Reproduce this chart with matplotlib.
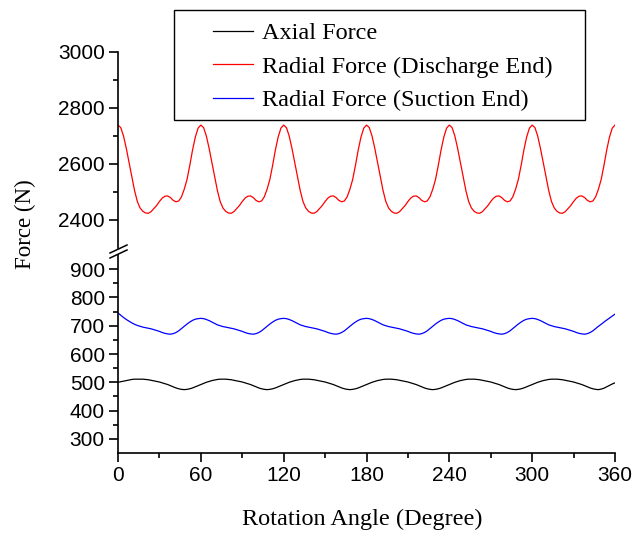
import matplotlib.pyplot as plt
import numpy as np
from matplotlib.lines import Line2D
from matplotlib.patches import Rectangle
from matplotlib.ticker import FixedLocator

# rotation angle, 2 degree steps
angle = np.arange(0, 361, 2)

# radial force at discharge end (N)
radial_discharge = [
    2739, 2730, 2700, 2656, 2605, 2552, 2505, 2466, 2443, 2431, 2425, 2424, 2430, 2441, 2452,
    2466, 2478, 2485, 2486, 2480, 2470, 2465, 2468, 2483, 2510, 2545, 2595, 2650, 2696, 2728,
    2739, 2730, 2700, 2656, 2605, 2552, 2505, 2466, 2443, 2431, 2425, 2424, 2430, 2441, 2452,
    2466, 2478, 2485, 2486, 2480, 2470, 2465, 2468, 2483, 2510, 2545, 2595, 2650, 2696, 2728,
    2739, 2730, 2700, 2656, 2605, 2552, 2505, 2466, 2443, 2431, 2425, 2424, 2430, 2441, 2452,
    2466, 2478, 2485, 2486, 2480, 2470, 2465, 2468, 2483, 2510, 2545, 2595, 2650, 2696, 2728,
    2739, 2730, 2700, 2656, 2605, 2552, 2505, 2466, 2443, 2431, 2425, 2424, 2430, 2441, 2452,
    2466, 2478, 2485, 2486, 2480, 2470, 2465, 2468, 2483, 2510, 2545, 2595, 2650, 2696, 2728,
    2739, 2730, 2700, 2656, 2605, 2552, 2505, 2466, 2443, 2431, 2425, 2424, 2430, 2441, 2452,
    2466, 2478, 2485, 2486, 2480, 2470, 2465, 2468, 2483, 2510, 2545, 2595, 2650, 2696, 2728,
    2739, 2730, 2700, 2656, 2605, 2552, 2505, 2466, 2443, 2431, 2425, 2424, 2430, 2441, 2452,
    2466, 2478, 2485, 2486, 2480, 2470, 2465, 2468, 2483, 2510, 2545, 2595, 2650, 2696, 2728,
    2739,
]

# radial force at suction end (N)
radial_suction = [
    745, 737, 729, 722, 716, 710, 705, 701, 698, 695, 693, 691, 689, 686, 683,
    680, 676, 673, 671, 670, 672, 676, 682, 690, 698, 706, 713, 719, 723, 725,
    726, 725, 722, 718, 713, 708, 703, 700, 697, 695, 693, 691, 689, 686, 683,
    680, 676, 673, 671, 670, 672, 676, 682, 690, 698, 706, 713, 719, 723, 725,
    726, 725, 722, 718, 713, 708, 703, 700, 697, 695, 693, 691, 689, 686, 683,
    680, 676, 673, 671, 670, 672, 676, 682, 690, 698, 706, 713, 719, 723, 725,
    726, 725, 722, 718, 713, 708, 703, 700, 697, 695, 693, 691, 689, 686, 683,
    680, 676, 673, 671, 670, 672, 676, 682, 690, 698, 706, 713, 719, 723, 725,
    726, 725, 722, 718, 713, 708, 703, 700, 697, 695, 693, 691, 689, 686, 683,
    680, 676, 673, 671, 670, 672, 676, 682, 690, 698, 706, 713, 719, 723, 725,
    726, 725, 722, 718, 713, 708, 703, 700, 697, 695, 693, 691, 689, 686, 683,
    680, 676, 673, 671, 670, 672, 676, 682, 690, 698, 705, 713, 720, 727, 734,
    741,
]

# axial force (N)
axial = [
    500, 502, 504, 506, 508, 510, 511, 511, 511, 511, 510, 509, 507, 505, 503,
    501, 498, 495, 492, 488, 484, 480, 477, 475, 474, 475, 477, 480, 484, 488,
    492, 496, 500, 503, 506, 508, 510, 511, 511, 511, 510, 509, 507, 505, 503,
    501, 498, 495, 492, 488, 484, 480, 477, 475, 474, 475, 477, 480, 484, 488,
    492, 496, 500, 503, 506, 508, 510, 511, 511, 511, 510, 509, 507, 505, 503,
    501, 498, 495, 492, 488, 484, 480, 477, 475, 474, 475, 477, 480, 484, 488,
    492, 496, 500, 503, 506, 508, 510, 511, 511, 511, 510, 509, 507, 505, 503,
    501, 498, 495, 492, 488, 484, 480, 477, 475, 474, 475, 477, 480, 484, 488,
    492, 496, 500, 503, 506, 508, 510, 511, 511, 511, 510, 509, 507, 505, 503,
    501, 498, 495, 492, 488, 484, 480, 477, 475, 474, 475, 477, 480, 484, 488,
    492, 496, 500, 503, 506, 508, 510, 511, 511, 511, 510, 509, 507, 505, 503,
    501, 498, 495, 492, 488, 484, 480, 477, 475, 474, 476, 479, 484, 489, 494,
    498,
]

labels = ['Axial Force', 'Radial Force (Discharge End)', 'Radial Force (Suction End)']
colors = ['black', '#ff0000', '#0000ff']

W, H = 634, 538
sans = 'Liberation Sans'
serif = 'Liberation Serif'

fig = plt.figure(figsize=(W / 100, H / 100), dpi=100)
ax_top = fig.add_axes([118 / W, 1 - 248 / H, 497 / W, 196 / H])
ax_bot = fig.add_axes([118 / W, 1 - 453 / H, 497 / W, 198 / H])

l_ax, = ax_bot.plot(angle, axial, color=colors[0], lw=0.9)
l_rs, = ax_bot.plot(angle, radial_suction, color=colors[2], lw=0.9)
l_rd, = ax_top.plot(angle, radial_discharge, color=colors[1], lw=0.9)

for ax in (ax_top, ax_bot):
    ax.set_xlim(0, 360)
    for s in ('top', 'right'):
        ax.spines[s].set_visible(False)
    for s in ('left', 'bottom'):
        ax.spines[s].set_linewidth(1.2)
    ax.tick_params(which='major', direction='out', length=6.5, width=1.2, labelsize=15, pad=3)
    ax.tick_params(which='minor', direction='out', length=3.5, width=1.2)

ax_top.set_ylim(2300, 3000)
ax_top.set_yticks([2400, 2600, 2800, 3000])
ax_top.yaxis.set_minor_locator(FixedLocator([2500, 2700, 2900]))
ax_top.spines['bottom'].set_visible(False)
ax_top.tick_params(axis='x', which='both', bottom=False, labelbottom=False)

ax_bot.set_ylim(250, 950)
ax_bot.set_yticks(range(300, 901, 100))
ax_bot.yaxis.set_minor_locator(FixedLocator(range(350, 851, 100)))
ax_bot.set_xticks(range(0, 361, 60))
ax_bot.xaxis.set_minor_locator(FixedLocator(range(30, 331, 60)))

for ax in (ax_top, ax_bot):
    for t in ax.get_xticklabels() + ax.get_yticklabels():
        t.set_family(sans)

# axis break marks
for y0, y1 in ((253, 245), (258, 250)):
    fig.add_artist(Line2D([110 / W, 127 / W], [1 - y0 / H, 1 - y1 / H],
                          transform=fig.transFigure, color='black', lw=1.1))

fig.text(25 / W, 1 - 224 / H, 'Force (N)', rotation=90, ha='center', va='center',
         family=serif, fontsize=16.5)
fig.text(362 / W, 1 - 519 / H, 'Rotation Angle (Degree)', ha='center', va='center',
         family=serif, fontsize=17.5)

# legend box
fig.add_artist(Rectangle((174 / W, 1 - 120 / H), 411 / W, 110 / H, transform=fig.transFigure,
                         fill=False, edgecolor='black', lw=1.0))
fig.legend([l_ax, l_rd, l_rs], labels, loc='upper left',
           bbox_to_anchor=(213 / W, 1 - 22 / H), frameon=False, borderpad=0,
           borderaxespad=0, prop={'family': serif, 'size': 17.5}, handlelength=1.65,
           handletextpad=0.37, labelspacing=0.48)

fig.savefig('out.png', dpi=100)
